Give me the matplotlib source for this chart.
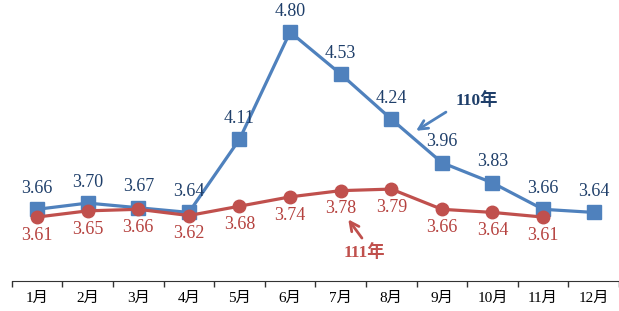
import matplotlib.pyplot as plt
import numpy as np

months = ['1月', '2月', '3月', '4月', '5月', '6月', '7月', '8月', '9月', '10月', '11月', '12月']
y110 = [3.66, 3.70, 3.67, 3.64, 4.11, 4.80, 4.53, 4.24, 3.96, 3.83, 3.66, 3.64]
y111 = [3.61, 3.65, 3.66, 3.62, 3.68, 3.74, 3.78, 3.79, 3.66, 3.64, 3.61]

blue = '#4F81BD'
red = '#C0504D'
blue_txt = '#1F3F6A'
red_txt = '#B5413E'

plt.rcParams['font.family'] = ['Liberation Serif', 'Noto Sans CJK TC', 'DejaVu Sans']

fig = plt.figure(figsize=(6.19, 3.11), dpi=100)
ax = fig.add_axes([0.019, 0.097, 0.981, 0.9])

x1 = np.arange(len(y110))
x2 = np.arange(len(y111))
ax.plot(x1, y110, color=blue, lw=2.3, marker='s', markersize=10, zorder=3)
ax.plot(x2, y111, color=red, lw=2.3, marker='o', markersize=9, zorder=4)

for x, v in zip(x1, y110):
    ax.annotate('%.2f' % v, (x, v), xytext=(0, 9), textcoords='offset points',
                ha='center', va='bottom', fontsize=13, color=blue_txt)
for x, v in zip(x2, y111):
    ax.annotate('%.2f' % v, (x, v), xytext=(0, -7), textcoords='offset points',
                ha='center', va='top', fontsize=13, color=red_txt)

# 110年 label and arrow
ax.text(8.7, 4.36, '110年', ha='center', va='center', fontsize=12.5,
        fontweight='bold', color=blue_txt)
ax.annotate('', xy=(7.49, 4.165), xytext=(8.08, 4.285),
            arrowprops=dict(arrowstyle='->', color=blue, lw=2,
                            mutation_scale=16, shrinkA=0, shrinkB=0))
# 111年 label and arrow
ax.text(6.47, 3.385, '111年', ha='center', va='center', fontsize=12.5,
        fontweight='bold', color=red)
ax.annotate('', xy=(6.15, 3.595), xytext=(6.42, 3.475),
            arrowprops=dict(arrowstyle='->', color=red, lw=2,
                            mutation_scale=16, shrinkA=0, shrinkB=0))

ax.set_xlim(-0.5, 11.5)
ax.set_ylim(3.2, 5.0)
ax.set_xticks(x1)
ax.set_xticklabels(months, fontsize=11)
ax.set_xticks(np.arange(-0.5, 12, 1), minor=True)
ax.tick_params(axis='x', which='major', length=0, pad=8)
ax.tick_params(axis='x', which='minor', length=4, width=1, color='#333333')
ax.set_yticks([])
for s in ['top', 'right', 'left']:
    ax.spines[s].set_visible(False)
ax.spines['bottom'].set_color('#333333')

fig.savefig('out.png', dpi=100)
